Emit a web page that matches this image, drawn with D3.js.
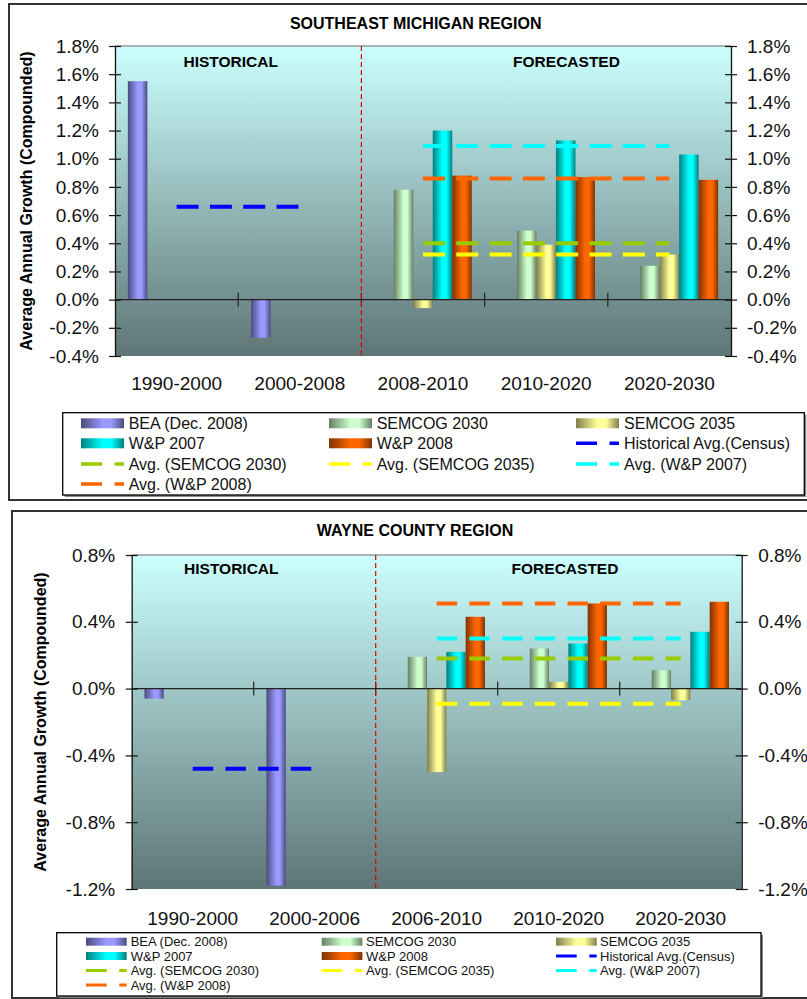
<!DOCTYPE html>
<html><head><meta charset="utf-8">
<script src="https://cdn.jsdelivr.net/npm/d3@7"></script>
<style>body{margin:0;background:#fff}svg{display:block}</style>
</head><body><svg id="c" width="807" height="999"></svg>
<script>
// ---------- DATA ----------
const seriesNames = ["BEA (Dec. 2008)", "SEMCOG 2030", "SEMCOG 2035", "W&P 2007", "W&P 2008"];
const avgNames = ["Historical Avg.(Census)", "Avg. (SEMCOG 2030)", "Avg. (SEMCOG 2035)", "Avg. (W&P 2007)", "Avg. (W&P 2008)"];

// Southeast Michigan Region
const semCategories = ["1990-2000", "2000-2008", "2008-2010", "2010-2020", "2020-2030"];
const semBEA      = [1.55, -0.27, null, null, null];
const semSEM2030  = [null, null, 0.78, 0.49, 0.24];
const semSEM2035  = [null, null, -0.06, 0.39, 0.32];
const semWP2007   = [null, null, 1.20, 1.13, 1.03];
const semWP2008   = [null, null, 0.88, 0.87, 0.85];
const semAvgs     = [0.66, 0.40, 0.32, 1.09, 0.86]; // hist, SEM2030, SEM2035, WP2007, WP2008
const semTicks    = [-0.4, -0.2, 0.0, 0.2, 0.4, 0.6, 0.8, 1.0, 1.2, 1.4, 1.6, 1.8];

// Wayne County Region
const wayCategories = ["1990-2000", "2000-2006", "2006-2010", "2010-2020", "2020-2030"];
const wayBEA      = [-0.06, -1.18, null, null, null];
const waySEM2030  = [null, null, 0.19, 0.24, 0.11];
const waySEM2035  = [null, null, -0.50, 0.04, -0.07];
const wayWP2007   = [null, null, 0.22, 0.27, 0.34];
const wayWP2008   = [null, null, 0.43, 0.51, 0.52];
const wayAvgs     = [-0.48, 0.18, -0.09, 0.30, 0.51];
const wayTicks    = [-1.2, -0.8, -0.4, 0.0, 0.4, 0.8];

// ---------- STYLE ----------
const FONT = "'Liberation Sans', Arial, Helvetica, sans-serif";
const barColors = [["#4B4B7E", "#9999FF"], ["#667F66", "#CCFFCC"], ["#7F7F4C", "#FFFF99"], ["#007F7F", "#00FFFF"], ["#7F3300", "#FF6600"]];
const avgColors = ["#0000FF", "#99CC00", "#FFFF00", "#00FFFF", "#FF6600"];

const svg = d3.select("#c");
const defs = svg.append("defs");
barColors.forEach((c, i) => {
  const lg = defs.append("linearGradient").attr("id", "bg" + i).attr("x1", 0).attr("x2", 1).attr("y1", 0).attr("y2", 0);
  [[0, c[0]], [0.5, c[1]], [0.7, c[1]], [1, c[0]]].forEach(s => lg.append("stop").attr("offset", s[0]).attr("stop-color", s[1]));
});
const pg = defs.append("linearGradient").attr("id", "plotbg").attr("x1", 0).attr("x2", 0).attr("y1", 0).attr("y2", 1);
pg.append("stop").attr("offset", 0).attr("stop-color", "#CCFFFF");
pg.append("stop").attr("offset", 1).attr("stop-color", "#5E7575");

const fmt = v => v.toFixed(1) + "%";

function chart(o) {
  const g = svg.append("g");
  g.append("rect").attr("x", o.frame[0]).attr("y", o.frame[1])
    .attr("width", o.frame[2] - o.frame[0]).attr("height", o.frame[3] - o.frame[1])
    .attr("fill", "#fff").attr("stroke", "#333").attr("stroke-width", 2);

  const x = d3.scaleBand().domain(o.categories).range([o.left, o.right]);
  const y = d3.scaleLinear().domain(o.yDomain).range([o.bottom, o.top]);
  const xs = d3.scaleBand().domain(seriesNames).range([0, x.bandwidth()]).paddingInner(0).paddingOuter(0.66);

  g.append("rect").attr("x", o.left).attr("y", o.top).attr("width", o.right - o.left)
    .attr("height", o.bottom - o.top).attr("fill", "url(#plotbg)");
  g.append("line").attr("x1", o.left).attr("x2", o.right).attr("y1", o.top).attr("y2", o.top)
    .attr("stroke", "#999").attr("stroke-width", 1.5);

  // bars
  o.bars.forEach((vals, si) => {
    g.append("g").selectAll("rect")
      .data(vals.map((v, ci) => ({ v, c: o.categories[ci] })).filter(d => d.v != null))
      .join("rect")
      .attr("x", d => x(d.c) + xs(seriesNames[si]))
      .attr("width", xs.bandwidth())
      .attr("y", d => y(Math.max(0, d.v)))
      .attr("height", d => Math.abs(y(d.v) - y(0)))
      .attr("fill", `url(#bg${si})`);
  });

  // zero line + category ticks
  g.append("line").attr("x1", o.left).attr("x2", o.right).attr("y1", y(0)).attr("y2", y(0))
    .attr("stroke", "#222").attr("stroke-width", 1.2);
  o.categories.slice(1).forEach(c => {
    g.append("line").attr("x1", x(c)).attr("x2", x(c)).attr("y1", y(0) - 7).attr("y2", y(0) + 7)
      .attr("stroke", "#222").attr("stroke-width", 1.2);
  });

  // red divider
  g.append("line").attr("x1", x(o.categories[2])).attr("x2", x(o.categories[2]))
    .attr("y1", o.top).attr("y2", o.bottom)
    .attr("stroke", "#E00000").attr("stroke-width", 1.2).attr("stroke-dasharray", "5,3");

  // average lines
  const hb = x.bandwidth() / 2;
  o.avgs.forEach((v, i) => {
    const from = i === 0 ? 0 : 2, to = i === 0 ? 1 : 4;
    g.append("line")
      .attr("x1", x(o.categories[from]) + hb).attr("x2", x(o.categories[to]) + hb)
      .attr("y1", y(v)).attr("y2", y(v))
      .attr("stroke", avgColors[i]).attr("stroke-width", 4).attr("stroke-dasharray", o.dash);
  });

  // axes
  const styleAxis = (ax) => {
    ax.attr("font-family", FONT).attr("font-size", 19);
    ax.select(".domain").attr("stroke", "#111").attr("stroke-width", 1.3);
    ax.selectAll(".tick line").attr("stroke", "#111").attr("stroke-width", 1.2);
    ax.selectAll(".tick text").attr("fill", "#111");
  };
  const la = g.append("g").attr("transform", `translate(${o.left},0)`)
    .call(d3.axisLeft(y).tickValues(o.ticks).tickFormat(fmt).tickSize(6).tickSizeOuter(0).tickPadding(o.pad));
  styleAxis(la); la.selectAll(".tick line").attr("x1", 6);
  const ra = g.append("g").attr("transform", `translate(${o.right},0)`)
    .call(d3.axisRight(y).tickValues(o.ticks).tickFormat(fmt).tickSize(6).tickSizeOuter(0).tickPadding(o.pad));
  styleAxis(ra); ra.selectAll(".tick line").attr("x1", -6);
  const ba = g.append("g").attr("transform", `translate(0,${o.bottom})`)
    .call(d3.axisBottom(x).tickSize(0).tickPadding(o.xPad));
  styleAxis(ba); ba.select(".domain").remove();

  // titles
  g.append("text").attr("x", o.titleX).attr("y", o.titleY).attr("text-anchor", "middle")
    .attr("font-family", FONT).attr("font-weight", "bold").attr("font-size", 16).text(o.title);
  g.append("text").attr("x", o.histX).attr("y", o.secY).attr("text-anchor", "middle")
    .attr("font-family", FONT).attr("font-weight", "bold").attr("font-size", 15.5).text("HISTORICAL");
  g.append("text").attr("x", o.foreX).attr("y", o.secY).attr("text-anchor", "middle")
    .attr("font-family", FONT).attr("font-weight", "bold").attr("font-size", 15.5).text("FORECASTED");
  g.append("text").attr("transform", `translate(${o.yLabX},${(o.top + o.bottom) / 2}) rotate(-90)`)
    .attr("text-anchor", "middle").attr("font-family", FONT).attr("font-weight", "bold")
    .attr("font-size", 16).text("Average Annual Growth (Compounded)");

  // legend
  const L = o.legend;
  g.append("rect").attr("x", L.box[0] + 2).attr("y", L.box[1] + 2).attr("width", L.box[2] - L.box[0])
    .attr("height", L.box[3] - L.box[1]).attr("fill", "#888");
  g.append("rect").attr("x", L.box[0]).attr("y", L.box[1]).attr("width", L.box[2] - L.box[0])
    .attr("height", L.box[3] - L.box[1]).attr("fill", "#fff").attr("stroke", "#000").attr("stroke-width", 1.3);
  const items = seriesNames.map((n, i) => ({ n, bar: i })).concat(avgNames.map((n, i) => ({ n, line: i })));
  items.forEach((it, k) => {
    const col = k % 3, row = Math.floor(k / 3);
    const sx = L.sw[col], cy = L.rows[row];
    if (it.bar != null) {
      g.append("rect").attr("x", sx).attr("y", cy - L.barH / 2).attr("width", L.swW).attr("height", L.barH)
        .attr("fill", `url(#bg${it.bar})`);
    } else {
      g.append("line").attr("x1", sx).attr("x2", sx + L.swW).attr("y1", cy).attr("y2", cy)
        .attr("stroke", avgColors[it.line]).attr("stroke-width", L.lineW).attr("stroke-dasharray", L.dash);
    }
    g.append("text").attr("x", L.tx[col]).attr("y", cy + L.fs * 0.35).attr("font-family", FONT)
      .attr("font-size", L.fs).attr("fill", "#111").text(it.n);
  });
}

chart({
  frame: [9, 4, 812, 500],
  categories: semCategories,
  bars: [semBEA, semSEM2030, semSEM2035, semWP2007, semWP2008],
  avgs: semAvgs,
  left: 115, right: 731, top: 46, bottom: 356,
  yDomain: [-0.4, 1.8], ticks: semTicks, pad: 10, xPad: 20.5,
  dash: "22,11.3",
  title: "SOUTHEAST MICHIGAN REGION", titleX: 415.7, titleY: 29.3,
  histX: 230.7, foreX: 566.5, secY: 66.7, yLabX: 31.5,
  legend: { box: [62.7, 412.7, 804.3, 495], sw: [81, 329, 576], tx: [128.7, 376.7, 624],
            rows: [423.3, 443.3, 464, 484], swW: 43, barH: 10, lineW: 3.5, dash: "21,12.5", fs: 16 }
});

chart({
  frame: [12, 511, 812, 998],
  categories: wayCategories,
  bars: [wayBEA, waySEM2030, waySEM2035, wayWP2007, wayWP2008],
  avgs: wayAvgs,
  left: 131.7, right: 741.7, top: 555, bottom: 889,
  yDomain: [-1.2, 0.8], ticks: wayTicks, pad: 10.5, xPad: 22.5,
  dash: "20.5,12.2",
  title: "WAYNE COUNTY REGION", titleX: 415, titleY: 536,
  histX: 231.3, foreX: 565, secY: 573.5, yLabX: 46,
  legend: { box: [56.7, 932.7, 761, 996], sw: [86, 321.7, 556], tx: [130.7, 366, 600],
            rows: [941.7, 956, 970.5, 985], swW: 40.7, barH: 8, lineW: 3, dash: "20.7,12.6", fs: 13 }
});
</script></body></html>
